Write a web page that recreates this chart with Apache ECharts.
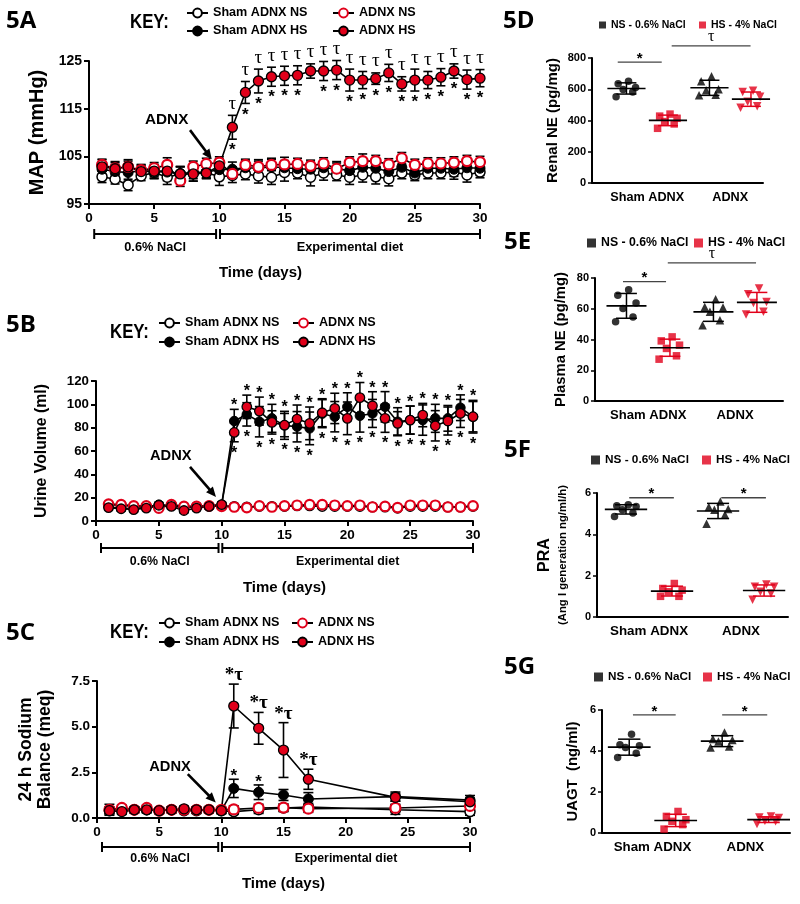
<!DOCTYPE html>
<html><head><meta charset="utf-8">
<script src="https://cdn.jsdelivr.net/npm/echarts@6/dist/echarts.min.js"></script>
<style>html,body{margin:0;padding:0;background:#fff}#c{width:800px;height:904px}</style>
</head><body><div id="c"></div>
<script>
const FONT = '"Liberation Sans", Arial, Helvetica, sans-serif';
const SERIF = '"Liberation Serif", "DejaVu Serif", serif';
const TITLEF = '"Open Sans", "Liberation Sans", sans-serif';
const RED = '#e1001a';

// ---------------- 5A : MAP ----------------
const daysA = [1,2,3,4,5,6,7,8,9,10,11,12,13,14,15,16,17,18,19,20,21,22,23,24,25,26,27,28,29,30];
const shamNS_A = [100.7,100.2,99.0,100.9,101.6,100.6,101.3,101.5,101.6,100.7,101.0,101.3,100.9,100.6,101.6,101.5,100.6,101.5,101.1,100.6,101.1,100.7,100.3,101.5,101.1,101.5,101.5,101.7,101.1,101.7];
const shamNS_A_err = [1.2,1.0,1.2,1.0,1.2,1.5,1.5,1.2,1.2,1.8,1.5,1.2,1.5,1.5,1.8,1.2,1.8,1.5,1.2,1.5,1.5,1.5,1.5,1.2,1.2,1.2,1.2,1.5,1.5,1.2];
const shamHS_A = [102.3,101.8,101.6,102.0,101.8,101.7,101.4,101.6,101.7,102.2,102.3,102.6,102.5,102.8,102.6,102.4,102.3,102.6,102.4,102.0,102.7,102.5,101.8,102.7,101.5,102.5,102.5,102.3,102.6,102.5];
const shamHS_A_err = [1.5,1.5,1.8,1.2,1.5,1.8,1.5,1.8,1.2,1.5,1.5,1.5,1.5,1.8,1.5,1.5,1.5,1.5,1.5,1.5,1.8,1.5,1.5,1.8,1.2,1.5,1.5,1.5,1.5,1.5];
const adnxNS_A = [103.2,102.5,102.8,102.1,102.5,103.2,99.9,102.8,103.4,103.7,101.3,103.2,102.8,103.2,103.3,103.4,103.0,103.5,102.4,103.7,104.0,104.0,103.3,104.6,103.2,103.5,103.5,103.7,104.0,103.8];
const adnxNS_A_err = [1.2,1.2,1.2,1.2,1.2,1.5,1.2,1.2,1.2,1.2,0.8,1.2,1.5,1.2,1.5,1.2,1.2,1.2,1.2,1.2,1.5,1.2,1.2,1.2,1.2,1.2,1.2,1.2,1.2,1.2];
const adnxHS_A = [102.8,102.4,102.8,101.8,101.9,101.9,101.3,101.3,101.5,103.0,111.1,118.4,120.8,121.7,121.9,122.0,122.9,122.9,123.1,121.0,121.0,121.3,122.5,120.2,121.0,121.0,121.6,122.9,121.1,121.4];
const adnxHS_A_err = [1.5,1.5,1.5,1.2,1.2,1.5,1.5,1.5,1.2,1.5,2.5,2.3,2.5,2.0,2.0,2.0,1.5,2.0,2.0,2.3,1.8,1.2,1.8,1.5,2.3,1.8,1.8,1.5,2.0,1.8];
const tauDays_A = [11,12,13,14,15,16,17,18,19,20,21,22,23,24,25,26,27,28,29,30];
const starDays_A = [11,12,13,14,15,16,18,19,20,21,22,23,24,25,26,27,28,29,30];

// ---------------- 5B : Urine volume ----------------
const daysB = daysA;
const shamNS_B = [14.0,13.5,12.5,12.5,13.0,13.5,12.0,12.5,12.5,13.0,12.5,12.0,12.5,12.5,12.5,13.0,13.0,12.5,12.5,12.5,12.5,12.0,12.0,11.0,12.5,12.5,12.5,12.0,12.0,12.5];
const shamNS_B_err = [1.5,1.5,1.5,1.5,1.5,1.5,1.5,1.5,1.5,1.5,1.5,1.5,1.5,1.5,1.5,1.5,1.5,1.5,1.5,1.5,1.5,1.5,1.5,1.5,1.5,1.5,1.5,1.5,1.5,1.5];
const shamHS_B = [12.0,11.0,10.5,12.0,14.0,13.0,11.5,12.0,13.0,14.0,85.7,91.4,85.1,88.0,82.0,80.8,79.4,92.0,89.4,97.9,90.2,92.2,97.9,85.1,86.5,86.5,88.0,88.0,97.1,89.4];
const shamHS_B_err = [2,2,2,2,2,2,2,2,2,2,10,10,13,12,12,13,14,12,13,12,14,12,13,12,12,13,12,11,11,13];
const adnxNS_B = [14.5,14.0,13.0,13.0,11.0,14.0,12.5,12.5,13.0,12.5,12.0,11.5,13.0,12.0,13.0,13.5,14.0,14.0,13.5,13.0,13.5,12.0,12.5,11.5,13.5,13.5,13.5,12.0,12.0,13.0];
const adnxNS_B_err = [1.5,1.5,1.5,1.5,1.5,1.5,1.5,1.5,1.5,1.5,1.5,1.5,1.5,1.5,1.5,1.5,1.5,1.5,1.5,1.5,1.5,1.5,1.5,1.5,1.5,1.5,1.5,1.5,1.5,1.5];
const adnxHS_B = [11.5,10.5,9.8,11.0,13.5,12.5,9.0,11.0,12.5,14.0,75.9,97.9,94.2,84.5,82.2,87.4,83.7,92.8,96.5,88.0,105.7,98.8,88.0,83.7,86.5,90.8,81.6,85.7,92.2,89.4];
const adnxHS_B_err = [2,2,2,2,2,2,2,2,2,2,8,10,12,10,10,12,14,12,13,14,13,12,12,10,12,10,13,12,12,14];
const starDays_B = [11,12,13,14,15,16,17,18,19,20,21,22,23,24,25,26,27,28,29,30];

// ---------------- 5C : Sodium balance ----------------
const daysC = [1,2,3,4,5,6,7,8,9,10,11,13,15,17,24,30];
const shamNS_C = [0.40,0.45,0.45,0.45,0.40,0.45,0.40,0.40,0.45,0.40,0.35,0.45,0.55,0.60,0.45,0.35];
const shamNS_C_err = [0.2,0.15,0.15,0.15,0.15,0.15,0.15,0.15,0.15,0.15,0.15,0.2,0.2,0.2,0.25,0.2];
const shamHS_C = [0.45,0.40,0.45,0.45,0.40,0.45,0.45,0.45,0.45,0.40,1.62,1.41,1.26,1.04,1.17,0.98];
const shamHS_C_err = [0.3,0.15,0.15,0.15,0.15,0.15,0.15,0.15,0.15,0.15,0.5,0.4,0.3,0.35,0.25,0.25];
const adnxNS_C = [0.45,0.55,0.45,0.55,0.40,0.45,0.45,0.45,0.45,0.45,0.47,0.55,0.57,0.51,0.55,0.66];
const adnxNS_C_err = [0.15,0.15,0.15,0.15,0.15,0.15,0.15,0.15,0.15,0.15,0.2,0.2,0.2,0.2,0.2,0.2];
const adnxHS_C = [0.40,0.35,0.45,0.45,0.40,0.45,0.50,0.45,0.45,0.40,6.13,4.91,3.72,2.12,1.13,0.89];
const adnxHS_C_err = [0.15,0.15,0.15,0.15,0.15,0.15,0.15,0.15,0.15,0.15,1.2,0.87,1.5,0.55,0.2,0.2];
const starTauDays_C = [11,13,15,17];
const starDays_C = [11,13];

// ---------------- 5D-5G : dot plots ----------------
const groupNames = ['Sham ADNX','ADNX'];
const rneShamNS = [651,636,611,598,583,552];
const rneShamHS = [441,428,414,393,378,350];
const rneAdnxNS = [683,651,600,594,565,562];
const rneAdnxHS = [590,583,552,520,492,482];
const pneShamNS = [72.4,68.8,63.8,60.1,54.7,51.5];
const pneShamHS = [41.7,39.1,36.3,34.2,29.4,27.2];
const pneAdnxNS = [66.2,61.2,60.8,58.0,52.5,49.3];
const pneAdnxHS = [73.1,69.4,64.4,63.8,58.0,56.2];
const praShamNS = [5.43,5.38,5.35,5.19,5.03,4.86];
const praShamHS = [1.62,1.38,1.30,1.22,1.00,1.00];
const praAdnxNS = [5.59,5.32,5.22,5.19,4.95,4.51];
const praAdnxHS = [1.57,1.46,1.46,1.22,1.14,0.84];
const uagtShamNS = [4.82,4.30,4.26,4.17,3.89,3.68];
const uagtShamHS = [1.05,0.81,0.65,0.57,0.41,0.19];
const uagtAdnxNS = [4.90,4.59,4.54,4.46,4.22,4.17];
const uagtAdnxHS = [0.81,0.76,0.73,0.60,0.57,0.44];

// ================= helpers =================
const JIT = [0.05,-0.2,0.22,-0.08,0.15,-0.25];
function font(size, bold, fam){ return (bold?'bold ':'') + size + 'px ' + (fam||FONT); }
function txt(x, y, text, f, extra){
  return Object.assign({type:'text', x:x, y:y, silent:true, style:{text:text, font:f, fill:'#000', align:'center', verticalAlign:'middle', textAlign:'center', textVerticalAlign:'middle'}}, extra||{});
}
const KIND = {
  wo:{color:'#fff', borderColor:'#000', borderWidth:1.5},
  bf:{color:'#000', borderColor:'#000', borderWidth:1},
  ro:{color:'#fff', borderColor:RED, borderWidth:2.2},
  rf:{color:RED, borderColor:'#000', borderWidth:1.3}
};

const grids = [
  {left:89, top:61, width:391, height:143},
  {left:96, top:381, width:377, height:140},
  {left:97, top:681, width:373, height:137},
  {left:592, top:58, width:171, height:125},
  {left:595, top:278, width:188, height:123},
  {left:597, top:493, width:191, height:124},
  {left:602, top:710, width:188, height:123}
];

function tsX(gi, nameGap, pad){
  return {gridIndex:gi, type:'value', min:0, max:30, interval:5, name:'Time (days)', nameLocation:'middle', nameGap:nameGap,
    nameTextStyle:{fontWeight:'bold', fontSize:15, color:'#000', fontFamily:FONT, padding:pad},
    axisLine:{onZero:false, lineStyle:{color:'#000', width:2}}, axisTick:{length:5, lineStyle:{color:'#000', width:2}},
    axisLabel:{color:'#000', fontWeight:'bold', fontSize:13.5, fontFamily:FONT, margin:7}, splitLine:{show:false}};
}
function tsY(gi, min, max, interval, name, nameGap, nameSize, labelSize, fmt){
  return {gridIndex:gi, type:'value', min:min, max:max, interval:interval, name:name, nameLocation:'middle', nameGap:nameGap,
    nameTextStyle:{fontWeight:'bold', fontSize:nameSize, color:'#000', fontFamily:FONT, lineHeight:nameSize+2},
    axisLine:{show:true, onZero:false, lineStyle:{color:'#000', width:2}}, axisTick:{show:true, length:5, lineStyle:{color:'#000', width:2}},
    axisLabel:{color:'#000', fontWeight:'bold', fontSize:labelSize, fontFamily:FONT, margin:7, formatter:fmt}, splitLine:{show:false}};
}
function dotX(gi, min, max, labelSize){
  return {gridIndex:gi, type:'value', min:min, max:max,
    axisLine:{onZero:false, lineStyle:{color:'#000', width:2}}, axisTick:{show:false},
    axisLabel:{customValues:[1.5,3.5], formatter:(v)=> v < 2.5 ? groupNames[0] : groupNames[1], color:'#000', fontWeight:'bold', fontSize:labelSize, fontFamily:FONT, margin:8},
    splitLine:{show:false}};
}
function dotY(gi, max, interval, name, nameGap, nameSize, rich){
  const o = {gridIndex:gi, type:'value', min:0, max:max, interval:interval, name:name, nameLocation:'middle', nameGap:nameGap,
    nameTextStyle:{fontWeight:'bold', fontSize:nameSize, color:'#000', fontFamily:FONT},
    axisLine:{show:true, onZero:false, lineStyle:{color:'#000', width:2}}, axisTick:{show:true, length:4, lineStyle:{color:'#000', width:1.5}},
    axisLabel:{color:'#000', fontWeight:'bold', fontSize:11, fontFamily:FONT, margin:6}, splitLine:{show:false}};
  if (rich) o.nameTextStyle.rich = rich;
  return o;
}

function errSeries(gi, days, vals, errs, cap){
  return {type:'custom', xAxisIndex:gi, yAxisIndex:gi, silent:true, z:3, clip:false,
    data: days.map((d,i)=>[d, vals[i], errs[i]]),
    renderItem:(p, api)=>{
      const x = api.value(0), y = api.value(1), e = api.value(2);
      const t = api.coord([x, y+e]), b = api.coord([x, y-e]);
      const st = {stroke:'#000', lineWidth:1.6};
      return {type:'group', children:[
        {type:'line', shape:{x1:t[0], y1:t[1], x2:b[0], y2:b[1]}, style:st},
        {type:'line', shape:{x1:t[0]-cap, y1:t[1], x2:t[0]+cap, y2:t[1]}, style:st},
        {type:'line', shape:{x1:b[0]-cap, y1:b[1], x2:b[0]+cap, y2:b[1]}, style:st}
      ]};
    }};
}
function lineSeries(gi, name, days, vals, kind, size){
  return {type:'line', name:name, xAxisIndex:gi, yAxisIndex:gi, z:3, symbol:'circle', symbolSize:size, showAllSymbol:true,
    data: days.map((d,i)=>[d, vals[i]]), itemStyle:KIND[kind], lineStyle:{color:'#000', width:1.6}, emphasis:{disabled:true}};
}
function textSeries(gi, items){
  return {type:'custom', xAxisIndex:gi, yAxisIndex:gi, silent:true, z:6, clip:false,
    data: items.map(it=>[it.x, it.y]),
    renderItem:(p, api)=>{
      const it = items[p.dataIndex];
      const c = api.coord([it.x, it.y]);
      return txt(c[0] + (it.dx||0), c[1] + it.dy, it.text, it.font);
    }};
}
function bracketSeries(gi, yMin, offs, labOff, labSize){
  const items = [{x1:0.4, x2:9.75, label:'0.6% NaCl'}, {x1:10.05, x2:30, label:'Experimental diet'}];
  return {type:'custom', xAxisIndex:gi, yAxisIndex:gi, silent:true, z:5, clip:false,
    data: items.map(it=>[it.x1, yMin]),
    renderItem:(p, api)=>{
      const it = items[p.dataIndex];
      const a = api.coord([it.x1, yMin]), b = api.coord([it.x2, yMin]);
      const y = a[1] + offs, st = {stroke:'#000', lineWidth:2};
      return {type:'group', children:[
        {type:'line', shape:{x1:a[0], y1:y, x2:b[0], y2:y}, style:st},
        {type:'line', shape:{x1:a[0], y1:y-5, x2:a[0], y2:y+5}, style:st},
        {type:'line', shape:{x1:b[0], y1:y-5, x2:b[0], y2:y+5}, style:st},
        txt((a[0]+b[0])/2, y + labOff, it.label, font(labSize, true))
      ]};
    }};
}
function arrowSeries(gi, textPos, start, tip, size){
  return {type:'custom', xAxisIndex:gi, yAxisIndex:gi, silent:true, z:6, clip:false,
    data:[start],
    renderItem:(p, api)=>{
      const s = api.coord(start), t = api.coord(tip), tp = api.coord(textPos);
      const dx = t[0]-s[0], dy = t[1]-s[1], L = Math.hypot(dx,dy), ux = dx/L, uy = dy/L;
      const hx = t[0]-ux*10, hy = t[1]-uy*10;
      return {type:'group', children:[
        txt(tp[0], tp[1], 'ADNX', font(size, true)),
        {type:'line', shape:{x1:s[0], y1:s[1], x2:hx+ux*2, y2:hy+uy*2}, style:{stroke:'#000', lineWidth:2.6}},
        {type:'polygon', shape:{points:[[t[0],t[1]],[hx-uy*4.5, hy+ux*4.5],[hx+uy*4.5, hy-ux*4.5]]}, style:{fill:'#000'}}
      ]};
    }};
}
function tsPanel(gi, days, sets, size, cap){
  const out = [];
  sets.forEach(s=>{
    out.push(errSeries(gi, days, s.v, s.e, cap));
    out.push(lineSeries(gi, s.name, days, s.v, s.kind, size));
  });
  return out;
}

// dot panels
const DOT_SYMB = [{symbol:'circle', rot:0, size:7.5, color:'#000'}, {symbol:'rect', rot:0, size:7.5, color:RED},
                  {symbol:'triangle', rot:0, size:8.5, color:'#000'}, {symbol:'triangle', rot:180, size:8.5, color:RED}];
function mean(a){ return a.reduce((s,v)=>s+v,0)/a.length; }
function sd(a){ const m = mean(a); return Math.sqrt(a.reduce((s,v)=>s+(v-m)*(v-m),0)/(a.length-1)); }
function dotPanel(gi, groups, sigs){
  const out = [];
  const nsData = [], hsData = [];
  groups.forEach((vals, g)=>{
    const st = DOT_SYMB[g];
    vals.forEach((v,i)=>{
      const item = {value:[g+1+JIT[i], v], symbol:st.symbol, symbolRotate:st.rot, symbolSize:st.size};
      (g % 2 === 0 ? nsData : hsData).push(item);
    });
  });
  out.push({type:'scatter', name:'NS - 0.6% NaCl', xAxisIndex:gi, yAxisIndex:gi, z:3, data:nsData, itemStyle:{color:'#000'}, emphasis:{disabled:true}});
  out.push({type:'scatter', name:'HS - 4% NaCl', xAxisIndex:gi, yAxisIndex:gi, z:3, data:hsData, itemStyle:{color:RED}, emphasis:{disabled:true}});
  const stats = groups.map((vals,g)=>({x:g+1, m:mean(vals), s:sd(vals), c:DOT_SYMB[g].color}));
  out.push({type:'custom', xAxisIndex:gi, yAxisIndex:gi, silent:true, z:4, clip:false,
    data: stats.map(s=>[s.x, s.m]),
    renderItem:(p, api)=>{
      const s = stats[p.dataIndex];
      const m1 = api.coord([s.x-0.46, s.m]), m2 = api.coord([s.x+0.46, s.m]);
      const t = api.coord([s.x, s.m+s.s]), b = api.coord([s.x, s.m-s.s]);
      const c1 = api.coord([s.x-0.24, s.m]), c2 = api.coord([s.x+0.24, s.m]);
      const st = {stroke:s.c, lineWidth:1.5};
      return {type:'group', children:[
        {type:'line', shape:{x1:t[0], y1:t[1], x2:b[0], y2:b[1]}, style:st},
        {type:'line', shape:{x1:c1[0], y1:t[1], x2:c2[0], y2:t[1]}, style:st},
        {type:'line', shape:{x1:c1[0], y1:b[1], x2:c2[0], y2:b[1]}, style:st},
        {type:'line', shape:{x1:m1[0], y1:m1[1], x2:m2[0], y2:m2[1]}, style:{stroke:'#000', lineWidth:1.6}}
      ]};
    }});
  out.push({type:'custom', xAxisIndex:gi, yAxisIndex:gi, silent:true, z:5, clip:false,
    data: sigs.map(s=>[s.x1, s.y]),
    renderItem:(p, api)=>{
      const s = sigs[p.dataIndex];
      const a = api.coord([s.x1, s.y]), b = api.coord([s.x2, s.y]);
      const isTau = s.t === 'τ';
      return {type:'group', children:[
        {type:'line', shape:{x1:a[0], y1:a[1], x2:b[0], y2:b[1]}, style:{stroke:'#444', lineWidth:1.3}},
        txt((a[0]+b[0])/2, a[1] + (isTau ? -9 : -3.5), s.t, isTau ? font(16, false, SERIF) : font(15, true))
      ]};
    }});
  return out;
}

// ---- significance marks for time-series panels ----
function idx(days, d){ return days.indexOf(d); }
const sigA = [];
tauDays_A.forEach(d=>{ const i = idx(daysA,d); sigA.push({x:d, y:adnxHS_A[i]+adnxHS_A_err[i], dy:-11.5, text:'τ', font:font(19,false,SERIF)}); });
starDays_A.forEach(d=>{ const i = idx(daysA,d); sigA.push({x:d, y:adnxHS_A[i]-adnxHS_A_err[i], dy:11.5, text:'*', font:font(17,true)}); });
const sigB = [];
starDays_B.forEach(d=>{
  const i = idx(daysB,d);
  const top = Math.max(adnxHS_B[i]+adnxHS_B_err[i], shamHS_B[i]+shamHS_B_err[i]);
  const bot = Math.min(adnxHS_B[i]-adnxHS_B_err[i], shamHS_B[i]-shamHS_B_err[i]);
  sigB.push({x:d, y:top, dy:-3.5, text:'*', font:font(16,true)});
  sigB.push({x:d, y:bot, dy:11.5, text:'*', font:font(16,true)});
});
const sigC = [];
starTauDays_C.forEach(d=>{ const i = idx(daysC,d); sigC.push({x:d, y:adnxHS_C[i]+adnxHS_C_err[i], dy:-9, text:'*τ', font:font(19,true,SERIF)}); });
starDays_C.forEach(d=>{ const i = idx(daysC,d); sigC.push({x:d, y:shamHS_C[i]+shamHS_C_err[i], dy:-3, text:'*', font:font(17,true)}); });

// ================= option =================
const series = [].concat(
  tsPanel(0, daysA, [
    {name:'Sham ADNX NS', v:shamNS_A, e:shamNS_A_err, kind:'wo'},
    {name:'Sham ADNX HS', v:shamHS_A, e:shamHS_A_err, kind:'bf'},
    {name:'ADNX NS', v:adnxNS_A, e:adnxNS_A_err, kind:'ro'},
    {name:'ADNX HS', v:adnxHS_A, e:adnxHS_A_err, kind:'rf'}], 10, 4.5),
  [textSeries(0, sigA), bracketSeries(0, 95, 30, 13, 12.8), arrowSeries(0, [5.96,112.6], [7.75,110.5], [9.42,104.4], 15.3)],
  tsPanel(1, daysB, [
    {name:'Sham ADNX NS', v:shamNS_B, e:shamNS_B_err, kind:'wo'},
    {name:'Sham ADNX HS', v:shamHS_B, e:shamHS_B_err, kind:'bf'},
    {name:'ADNX NS', v:adnxNS_B, e:adnxNS_B_err, kind:'ro'},
    {name:'ADNX HS', v:adnxHS_B, e:adnxHS_B_err, kind:'rf'}], 9.5, 4.5),
  [textSeries(1, sigB), bracketSeries(1, 0, 27, 14, 12.4), arrowSeries(1, [5.95,56.0], [7.48,46.4], [9.55,20.6], 14.7)],
  tsPanel(2, daysC, [
    {name:'Sham ADNX NS', v:shamNS_C, e:shamNS_C_err, kind:'wo'},
    {name:'Sham ADNX HS', v:shamHS_C, e:shamHS_C_err, kind:'bf'},
    {name:'ADNX NS', v:adnxNS_C, e:adnxNS_C_err, kind:'ro'},
    {name:'ADNX HS', v:adnxHS_C, e:adnxHS_C_err, kind:'rf'}], 10, 5),
  [textSeries(2, sigC), bracketSeries(2, 0, 29, 12, 12.3), arrowSeries(2, [5.87,2.81], [7.3,2.4], [9.55,0.85], 14.7)],
  dotPanel(3, [rneShamNS, rneShamHS, rneAdnxNS, rneAdnxHS], [{x1:0.79, x2:1.85, y:774, t:'*'}, {x1:2.09, x2:3.99, y:877, t:'τ'}]),
  dotPanel(4, [pneShamNS, pneShamHS, pneAdnxNS, pneAdnxHS], [{x1:0.92, x2:1.91, y:77.6, t:'*'}, {x1:1.95, x2:3.98, y:89.8, t:'τ'}]),
  dotPanel(5, [praShamNS, praShamHS, praAdnxNS, praAdnxHS], [{x1:1.07, x2:2.04, y:5.77, t:'*'}, {x1:3.07, x2:4.04, y:5.77, t:'*'}]),
  dotPanel(6, [uagtShamNS, uagtShamHS, uagtAdnxNS, uagtAdnxHS], [{x1:1.08, x2:2.0, y:5.76, t:'*'}, {x1:3.0, x2:3.97, y:5.76, t:'*'}])
);

function tsLegend(left, top, names, gap){
  return {orient:'vertical', left:left, top:top, padding:0, itemWidth:21, itemHeight:11, itemGap:gap, selectedMode:false, data:names,
    textStyle:{fontWeight:'bold', fontSize:12.6, color:'#000', fontFamily:FONT, lineHeight:13}};
}
function dotLegend(left, cy, name, size, fs){
  return {left:left, top:cy-6, padding:0, itemWidth:size, itemHeight:size, icon:'rect', selectedMode:false, data:[name],
    textStyle:{fontWeight:'bold', fontSize:fs, color:'#000', fontFamily:FONT, lineHeight:12}};
}

const titles = [['5A',6,24],['5B',6,328],['5C',6,636],['5D',503,24],['5E',504,245],['5F',504,453],['5G',504,670]];
const keys = [[130,22],[110,332],[110,632]];

const option = {
  animation:false,
  backgroundColor:'#fff',
  textStyle:{fontFamily:FONT},
  grid: grids.map(g=>Object.assign({outerBoundsMode:'none'}, g)),
  xAxis:[ tsX(0, 61, [0,48,0,0]), tsX(1, 59, 0), tsX(2, 58, 0),
    dotX(3, 0.17, 4.29, 12.7), dotX(4, 0.276, 4.6, 13.1), dotX(5, 0.37, 4.52, 13.4), dotX(6, 0.414, 4.46, 13.3)],
  yAxis:[
    tsY(0, 95, 125, 10, 'MAP (mmHg)', 41, 20, 14),
    tsY(1, 0, 120, 20, 'Urine Volume (ml)', 45, 15.8, 13.3),
    tsY(2, 0, 7.5, 2.5, '24 h Sodium\nBalance (meq)', 42, 17.5, 13.5, (v)=>v.toFixed(1)),
    dotY(3, 800, 200, 'Renal NE (pg/mg)', 32, 15),
    dotY(4, 80, 20, 'Plasma NE (pg/mg)', 27, 14.8),
    dotY(5, 6, 2, '{a|PRA}\n{b|(Ang I generation ng/ml/h)}', 27, 15, {a:{fontSize:16, fontWeight:'bold', fontFamily:FONT, lineHeight:22}, b:{fontSize:11.3, fontWeight:'bold', fontFamily:FONT, lineHeight:14}}),
    dotY(6, 6, 2, 'UAGT  (ng/ml)', 22, 14.9)
  ],
  legend:[
    tsLegend(186, 6.5, ['Sham ADNX NS','Sham ADNX HS'], 5),
    tsLegend(332, 6.5, ['ADNX NS','ADNX HS'], 5),
    tsLegend(158, 316.5, ['Sham ADNX NS','Sham ADNX HS'], 6),
    tsLegend(292, 316.5, ['ADNX NS','ADNX HS'], 6),
    tsLegend(158, 616.5, ['Sham ADNX NS','Sham ADNX HS'], 6),
    tsLegend(291, 616.5, ['ADNX NS','ADNX HS'], 6),
    dotLegend(599, 25, 'NS - 0.6% NaCl', 7, 10.5), dotLegend(699, 25, 'HS - 4% NaCl', 7, 10.5),
    dotLegend(587, 243, 'NS - 0.6% NaCl', 9, 12.3), dotLegend(694, 243, 'HS - 4% NaCl', 9, 12.3),
    dotLegend(591, 460, 'NS - 0.6% NaCl', 9, 11.8), dotLegend(702, 460, 'HS - 4% NaCl', 9, 11.8),
    dotLegend(594, 677, 'NS - 0.6% NaCl', 9, 11.7), dotLegend(703, 677, 'HS - 4% NaCl', 9, 11.7)
  ],
  graphic: [].concat(
    titles.map(t=>({type:'text', left:t[1], top:t[2]-15, silent:true, style:{text:t[0], font:font(24,true,TITLEF), fill:'#000'}})),
    keys.map(k=>({type:'text', x:k[0], y:k[1], scaleX:0.8, silent:true, style:{text:'KEY:', font:font(21,true), fill:'#000', align:'left', verticalAlign:'middle', textAlign:'left', textVerticalAlign:'middle'}}))
  ),
  series: series
};

const chart = echarts.init(document.getElementById('c'), null, {renderer:'canvas'});
chart.setOption(option);
</script>
</body></html>
